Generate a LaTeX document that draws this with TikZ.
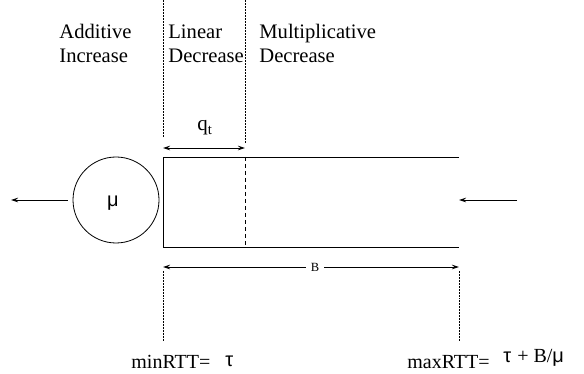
\documentclass[tikz,border=0pt]{standalone}
\usepackage{fontspec}
\setmainfont{Liberation Serif}
\newfontfamily\symf{Liberation Sans}
\usetikzlibrary{arrows.meta}
\begin{document}
\begin{tikzpicture}[x=1pt,y=-1pt,line width=0.8pt,
  tipl/.style={-{Stealth[length=7pt,width=4.5pt]}},
  tipboth/.style={{Stealth[length=7pt,width=4.5pt]}-{Stealth[length=7pt,width=4.5pt]}},
  dotline/.style={densely dotted,line width=0.5pt},
  lbl/.style={font=\fontsize{20.6}{24}\selectfont,align=left,anchor=north west,inner sep=0pt},
  btxt/.style={font=\fontsize{20}{24}\selectfont,anchor=base west,inner sep=0pt}]
\useasboundingbox (0,0) rectangle (584,374);
% labels top
\node[lbl] (ai) at (59,24) {Additive\\Increase};
\node[lbl] (ld) at (168,24) {Linear\\Decrease};
\node[lbl] (md) at (259,24) {Multiplicative\\Decrease};
% coordinates
\coordinate (d1t) at (163,0);
\coordinate (d1b) at (163,138);
\coordinate (d2t) at (245,0);
\coordinate (d2b) at (245,143);
\coordinate (qa) at (163,148);
\coordinate (qb) at (245,148);
\coordinate (tl) at (163,157);
\coordinate (tr) at (459,157);
\coordinate (bl) at (163,247);
\coordinate (br) at (459,247);
\coordinate (dt) at (245,157);
\coordinate (db) at (245,247);
\coordinate (ba) at (163,267);
\coordinate (bb) at (459,267);
\coordinate (e1t) at (163,271);
\coordinate (e1b) at (163,341);
\coordinate (e2t) at (459,271);
\coordinate (e2b) at (459,341);
\coordinate (outl) at (11,200);
\coordinate (inr) at (517,200);
\coordinate (inrend) at (459,200);
% dotted guides
\draw[dotline] (d1t) -- (d1b);
\draw[dotline] (d2t) -- (d2b);
\draw[dotline] (e1t) -- (e1b);
\draw[dotline] (e2t) -- (e2b);
% q_t
\draw[tipboth] (qa) -- (qb);
\node[font=\fontsize{21}{24}\selectfont,anchor=base,inner sep=0pt] (q) at (205,131) {q\textsubscript{t}};
% buffer
\draw (tr) -- (tl) -- (bl) -- (br);
\draw[dash pattern=on 4pt off 3pt] (dt) -- (db);
% server
\node[draw,circle,minimum size=86pt,inner sep=0pt] (mu) at (116,200) {};
\node[font=\fontsize{20}{24}\symf,inner sep=0pt] (mul) at (113,203) {μ};
\draw[tipl] (mu.west) ++(-5,0) coordinate (mw) (mw) -- (outl);
\draw[tipl] (inr) -- (inrend);
% B arrow
\draw[tipboth] (ba) -- (bb);
\node[fill=white,inner xsep=5pt,inner ysep=1pt,font=\fontsize{12.5}{14}\selectfont] (B) at (315,267) {B};
% bottom texts
\node[btxt] (minr) at (131,368) {minRTT=};
\node[btxt,font=\fontsize{20}{24}\symf] (tau) at (225,366) {τ};
\node[btxt] (maxr) at (407,368) {maxRTT=};
\node[btxt] (tb) at (503,362) {{\symf τ}\hspace{6pt}+\hspace{5pt}B/{\symf μ}};
\end{tikzpicture}
\end{document}
